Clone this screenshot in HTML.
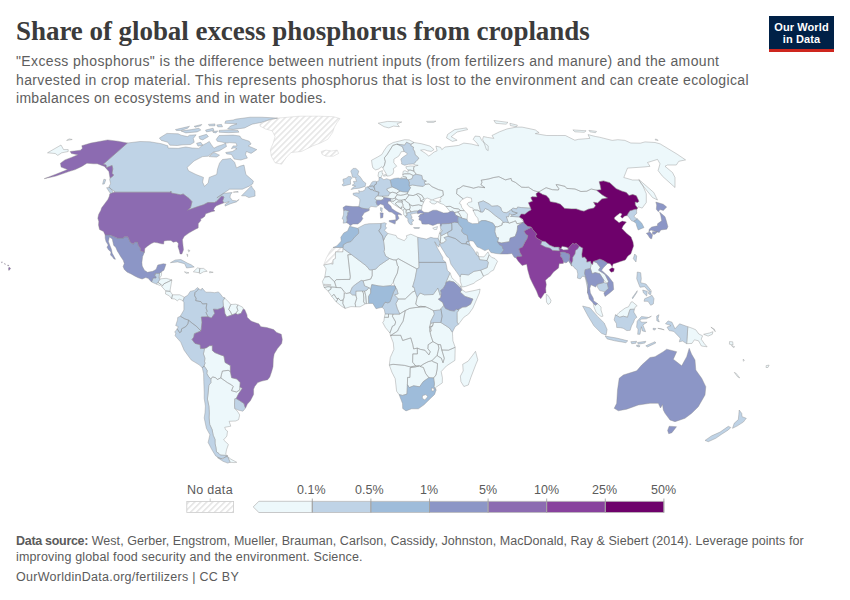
<!DOCTYPE html>
<html><head><meta charset="utf-8">
<style>
html,body{margin:0;padding:0;background:#fff;width:850px;height:600px;overflow:hidden;position:relative;font-family:"Liberation Sans",sans-serif;}
.t{position:absolute;white-space:nowrap;}
#title{left:16px;top:16.3px;letter-spacing:-0.05px;font-family:"Liberation Serif",serif;font-weight:bold;font-size:27px;color:#3b3b3b;}
.sub{left:16px;font-size:14px;color:#5e5e5e;letter-spacing:0.37px;}
.foot{left:16px;font-size:12.5px;color:#5b5b5b;letter-spacing:0.15px;}
.foot b{letter-spacing:-0.3px;}
.leg{font-size:12.5px;color:#5b5b5b;}
#logo{position:absolute;left:769px;top:16px;width:65px;height:36px;background:#002147;}
#logo .bar{position:absolute;left:0;bottom:0;width:65px;height:3px;background:#ce261e;}
#logo .tx{position:absolute;left:0;width:65px;text-align:center;color:#fff;font-weight:bold;font-size:11px;line-height:12px;}
svg{position:absolute;left:0;top:0;}
</style></head><body>
<div class="t" id="title">Share of global excess phosphorus from croplands</div>
<div class="t sub" style="top:53.3px">"Excess phosphorus" is the difference between nutrient inputs (from fertilizers and manure) and the amount</div>
<div class="t sub" style="top:72px">harvested in crop material. This represents phosphorus that is lost to the environment and can create ecological</div>
<div class="t sub" style="top:89.9px;letter-spacing:0.3px">imbalances on ecosystems and in water bodies.</div>
<div id="logo"><div class="tx" style="top:4.9px;letter-spacing:0.1px">Our World<br>in Data</div><div class="bar"></div></div>

<svg width="850" height="600" viewBox="0 0 850 600">
<defs><pattern id="nd" width="4.24" height="4.24" patternUnits="userSpaceOnUse" patternTransform="rotate(45)"><rect width="4.24" height="4.24" fill="#fff"/><rect width="1.6" height="4.24" fill="#e6e6e6"/></pattern></defs>
<g id="map" stroke="#8a8a8a" stroke-width="0.4" stroke-linejoin="round">
<path fill="url(#nd)" stroke="#d0d0d0" stroke-width="0.5" d="M343.0 247.5 L342.9 251.9 L335.5 251.9 L335.4 258.5 L333.1 259.8 L333.0 264.2 L330.8 263.7 L323.7 265.0 L326.4 257.9 L329.9 251.4 L333.0 247.5ZM277.9 118.1 L299.5 116.2 L318.4 116.2 L333.4 116.7 L340.0 118.6 L337.2 122.4 L334.4 127.1 L332.5 132.7 L327.8 139.3 L320.2 143.1 L312.7 145.9 L301.4 151.5 L291.1 152.5 L286.4 157.2 L281.6 164.2 L275.1 162.8 L271.3 156.2 L270.4 149.6 L273.2 143.1 L275.1 136.5 L272.2 130.8 L265.6 129.0 L260.0 126.1 L260.0 124.2 L267.5 120.5ZM321.2 151.5 L325.9 150.1 L331.5 151.0 L337.2 150.1 L338.6 153.4 L333.4 156.2 L325.9 156.2 L322.1 154.4Z"/>
<path fill="#edf8fb" d="M387.7 233.4 L396.1 235.5 L397.1 237.8 L404.3 240.7 L406.8 237.6 L406.4 235.7 L410.9 234.2 L417.8 237.3 L418.9 262.4 L419.1 267.6 L416.9 268.9 L398.3 258.7 L396.1 260.0 L393.1 259.8 L389.5 258.5 L385.6 256.1 L383.9 251.4 L384.6 249.3 L383.5 240.7 L385.1 237.0ZM417.2 297.2 L420.1 293.0 L424.5 294.8 L433.2 294.5 L437.9 288.0 L440.1 295.1 L440.9 297.4 L438.4 299.2 L442.8 302.6 L443.8 305.5 L440.9 308.9 L439.7 310.0 L433.5 310.7 L429.3 308.4 L425.6 306.8 L420.8 306.3 L418.7 306.6 L415.7 304.2ZM416.9 268.9 L398.3 258.7 L396.1 260.0 L397.5 265.8 L398.5 266.6 L397.3 273.1 L394.2 279.4 L393.3 282.3 L394.7 285.7 L395.7 288.0 L396.6 288.8 L398.1 293.8 L394.4 294.8 L398.3 299.0 L405.2 299.0 L412.3 292.2 L415.0 290.9 L414.0 287.0 L412.6 287.0 L415.0 278.9ZM389.5 258.5 L393.1 259.8 L396.1 260.0 L397.5 265.8 L398.5 266.6 L397.3 273.1 L394.2 279.4 L393.3 282.3 L390.6 285.7 L383.1 286.4 L378.7 285.9 L371.8 284.6 L370.7 289.3 L368.9 287.7 L364.5 285.9 L363.1 280.9 L370.7 279.1 L372.2 275.7 L372.2 269.7 L375.6 269.2 L379.4 265.3ZM351.4 254.5 L366.5 266.0 L369.7 270.0 L372.2 269.7 L372.2 275.7 L370.7 279.1 L363.1 280.9 L361.3 280.4 L357.9 282.8 L355.3 284.6 L352.3 287.2 L350.0 292.7 L346.3 293.5 L343.6 290.9 L341.1 287.7 L336.3 287.5 L334.5 281.7 L336.4 279.6 L349.9 279.4 L350.3 276.8 L347.8 254.8ZM323.7 265.0 L326.1 268.9 L324.8 277.0 L329.1 276.5 L334.5 281.7 L336.4 279.6 L349.9 279.4 L350.3 276.8 L347.8 254.8 L351.4 254.5 L343.0 248.5 L342.9 251.9 L335.5 251.9 L335.4 258.5 L333.1 259.8 L333.0 264.2 L330.8 263.7ZM324.8 277.0 L322.4 281.5 L324.1 287.5 L328.0 286.7 L334.7 287.2 L336.3 287.5 L334.5 281.7 L329.1 276.5ZM324.0 284.3 L330.8 284.6 L330.8 285.4 L324.2 285.4ZM324.1 287.5 L328.0 286.7 L331.0 287.0 L331.0 289.1 L328.0 291.1ZM328.0 291.1 L331.0 289.1 L331.0 287.0 L334.7 287.2 L336.3 287.5 L341.1 287.7 L343.6 290.9 L344.3 293.0 L344.0 297.7 L343.1 300.0 L340.6 300.6 L338.3 298.2 L337.1 299.0 L333.9 294.3 L331.8 296.4ZM331.8 296.4 L333.9 294.3 L337.1 299.0 L338.3 298.2 L336.2 301.9ZM336.2 301.9 L338.3 298.2 L340.6 300.6 L343.1 300.0 L342.8 303.4 L345.1 308.4 L341.7 306.3ZM345.1 308.4 L342.8 303.4 L343.1 300.0 L344.0 297.7 L344.3 293.0 L346.3 293.5 L350.0 292.7 L352.3 294.8 L355.8 295.1 L356.7 298.5 L355.1 303.4 L355.7 306.8 L350.9 306.6ZM355.7 306.8 L355.1 303.4 L356.7 298.5 L355.8 295.1 L355.8 291.1 L362.2 290.9 L363.4 293.2 L363.8 298.2 L363.6 301.9 L365.2 303.9 L360.1 306.8ZM365.2 303.9 L363.6 301.9 L363.8 298.2 L363.4 293.2 L362.2 290.9 L364.5 291.1 L365.7 295.6 L366.4 303.7ZM366.4 303.7 L365.7 295.6 L364.5 291.1 L367.0 290.1 L368.9 287.7 L370.7 289.3 L370.7 293.0 L368.6 296.4 L368.7 303.4ZM395.8 303.7 L398.3 299.0 L405.2 299.0 L412.3 292.2 L415.0 290.9 L417.2 297.2 L415.7 304.2 L418.7 306.6 L420.8 306.3 L425.6 306.8 L420.1 307.1 L415.0 307.6 L409.7 308.4 L405.3 310.5 L400.5 313.4 L399.8 314.1 L397.3 308.7ZM385.1 313.9 L388.5 313.9 L388.5 317.3 L384.4 317.3ZM384.4 317.3 L388.5 317.3 L388.5 313.9 L393.1 314.1 L392.4 316.2 L395.7 322.0 L394.7 325.1 L392.4 326.2 L389.9 333.0 L385.5 327.7 L382.7 322.5 L383.9 320.9ZM389.9 333.0 L392.4 326.2 L394.7 325.1 L395.7 322.0 L392.4 316.2 L393.1 314.1 L399.8 314.1 L400.5 313.4 L405.3 310.5 L403.1 321.2 L399.4 327.2 L397.5 331.1 L390.5 335.6ZM390.5 335.6 L397.5 331.1 L399.4 327.2 L403.1 321.2 L405.3 310.5 L409.7 308.4 L415.0 307.6 L420.1 307.1 L425.6 306.8 L429.3 308.4 L433.5 310.7 L434.4 314.1 L430.8 321.2 L429.8 327.2 L430.0 331.7 L431.1 336.4 L432.9 341.6 L428.2 344.7 L427.9 348.6 L430.3 351.8 L428.9 354.9 L424.9 350.2 L420.5 349.4 L417.3 348.1 L413.6 348.9 L412.8 344.7 L410.8 337.9 L402.7 340.5 L400.7 335.3 L392.4 335.3ZM390.5 335.6 L392.4 335.3 L400.7 335.3 L402.7 340.5 L410.8 337.9 L412.8 344.7 L413.6 348.9 L417.3 348.1 L417.4 353.9 L412.8 353.9 L412.6 362.2 L415.7 365.9 L410.2 366.9 L404.6 365.4 L393.0 364.3 L389.3 365.1 L390.3 357.5 L393.9 349.4 L393.3 342.9ZM389.3 365.1 L393.0 364.3 L404.6 365.4 L410.2 366.9 L415.7 365.9 L419.4 365.9 L415.5 366.9 L410.2 367.7 L409.9 377.4 L407.6 377.4 L407.4 384.7 L407.0 394.1 L402.5 395.4 L399.1 394.6 L396.6 391.2 L395.2 378.7 L391.9 372.2ZM407.4 384.7 L407.6 377.4 L409.9 377.4 L410.2 367.7 L415.5 366.9 L419.4 365.9 L420.0 366.4 L423.4 367.5 L425.7 373.5 L428.9 377.7 L423.3 381.6 L419.6 386.8 L413.6 385.8 L409.3 387.6ZM420.0 366.4 L424.0 363.8 L428.2 361.7 L431.9 360.7 L433.2 361.7 L437.5 363.5 L437.2 369.0 L436.0 375.0 L433.6 377.9 L428.9 377.7 L425.7 373.5 L423.4 367.5ZM412.8 353.9 L417.4 353.9 L417.3 348.1 L420.5 349.4 L424.9 350.2 L428.9 354.9 L430.3 351.8 L427.9 348.6 L428.2 344.7 L432.9 341.6 L438.1 344.5 L438.9 348.1 L438.1 351.3 L437.1 355.4 L431.9 360.7 L428.2 361.7 L424.0 363.8 L420.0 366.4 L419.4 365.9 L415.7 365.9 L412.6 362.2ZM436.0 390.2 L434.0 386.8 L434.4 383.7 L433.6 377.9 L436.0 375.0 L437.2 369.0 L437.5 363.5 L433.2 361.7 L431.9 360.7 L437.1 355.4 L438.4 356.5 L441.3 358.1 L443.0 362.8 L444.3 358.3 L441.8 350.0 L448.5 350.2 L455.2 347.3 L454.9 360.4 L446.5 365.9 L441.2 371.6 L442.4 377.7 L442.3 382.9 L435.5 387.6ZM438.9 348.1 L438.1 344.5 L440.6 344.7 L441.8 350.0 L444.3 358.3 L443.0 362.8 L441.3 358.1 L438.4 356.5 L437.1 355.4 L438.1 351.3ZM430.0 331.7 L431.1 336.4 L432.9 341.6 L438.1 344.5 L440.6 344.7 L441.8 350.0 L448.5 350.2 L455.2 347.3 L452.9 340.8 L452.7 336.9 L452.4 332.2 L449.4 328.0 L440.9 322.5 L433.5 322.5 L432.6 325.9 L430.7 327.5ZM430.8 323.3 L433.5 322.5 L432.6 325.9 L429.4 327.2ZM429.4 327.2 L432.6 325.9 L430.7 327.5 L431.6 330.9 L430.0 331.7ZM445.9 282.5 L450.0 272.8 L452.2 278.3 L453.8 279.4 L457.9 283.6 L461.2 286.7 L459.6 287.2 L456.8 284.6 L453.9 282.0 L449.1 280.9ZM459.6 287.2 L461.2 286.7 L462.0 289.8 L460.7 291.1 L461.3 289.1ZM457.1 322.2 L458.5 324.3 L463.8 317.3 L468.6 314.1 L472.9 308.1 L476.8 299.0 L479.4 293.0 L480.1 289.1 L474.9 290.4 L465.8 292.2 L462.0 289.8 L460.7 291.1 L460.3 292.2 L465.0 296.4 L472.9 299.0 L470.5 304.2 L466.2 306.8 L462.7 307.1 L459.3 308.9 L457.0 309.7 L459.1 309.7 L457.0 312.6ZM475.5 351.3 L477.8 359.9 L475.9 364.3 L470.9 377.4 L468.3 385.0 L463.9 386.5 L460.9 381.6 L460.4 376.1 L463.2 370.9 L462.7 364.3 L468.1 361.2 L472.3 355.7ZM159.5 273.3 L161.7 271.5 L161.4 275.5 L159.5 278.3 L158.9 278.3ZM158.0 282.3 L158.4 281.7 L160.1 278.9 L166.1 278.3 L171.9 279.9 L168.7 281.5 L163.9 283.8 L162.4 285.9 L161.3 284.9ZM156.2 284.0 L158.0 282.3 L161.3 284.9 L159.7 285.4ZM171.9 279.9 L171.3 283.3 L170.1 290.1 L170.2 291.4 L165.7 290.9 L161.4 286.2 L162.4 285.9 L163.9 283.8 L168.7 281.5ZM170.2 291.4 L172.5 294.8 L171.6 298.7 L169.3 295.8 L165.5 294.0 L165.7 290.9ZM172.5 294.8 L179.7 294.8 L184.4 297.2 L183.0 301.1 L182.4 300.3 L179.2 299.2 L177.3 300.8 L174.8 299.0 L171.6 298.7ZM193.3 271.8 L197.5 267.9 L199.8 268.4 L199.3 272.8ZM199.8 268.4 L203.6 268.4 L207.2 271.3 L203.5 271.8 L199.9 273.9 L199.3 272.8ZM184.4 271.8 L189.0 272.8 L186.5 273.4ZM209.7 271.5 L213.2 272.3 L209.5 272.8ZM188.0 249.8 L190.1 250.6 L188.7 251.9ZM186.8 254.0 L187.6 256.6 L187.7 254.5ZM224.4 297.7 L228.8 302.1 L230.8 304.5 L228.7 309.4 L230.2 311.3 L232.0 314.9 L226.7 316.8 L224.9 313.4 L224.3 309.2 L223.4 306.3 L222.9 300.8 L224.8 297.9ZM230.8 304.5 L235.7 304.2 L238.0 304.9 L236.8 307.1 L237.9 310.5 L235.7 313.4 L232.0 314.9 L230.2 311.3 L228.7 309.4ZM238.0 304.9 L242.5 307.1 L243.4 308.9 L241.0 313.4 L237.6 314.4 L235.7 313.4 L237.9 310.5 L236.8 307.1ZM202.6 348.5 L206.2 347.9 L209.4 345.8 L212.3 345.5 L212.4 350.5 L214.8 352.6 L220.7 354.9 L223.9 356.0 L225.1 362.5 L230.4 365.6 L230.4 371.6 L228.2 370.3 L222.4 371.1 L221.4 374.8 L220.8 377.9 L217.3 379.5 L215.6 377.7 L212.5 376.9 L210.8 379.2 L208.2 376.1 L206.8 373.5 L207.2 370.6 L205.3 367.7 L204.0 365.9 L205.1 363.0 L204.5 361.7 L204.9 358.1 L203.4 353.9 L204.5 348.6ZM230.4 371.6 L231.6 377.7 L236.9 379.0 L240.2 382.6 L239.9 386.8 L239.8 389.9 L236.5 392.0 L231.5 390.7 L233.2 386.5 L231.7 385.0 L227.4 382.6 L220.8 377.9 L221.4 374.8 L222.4 371.1 L228.2 370.3ZM220.8 377.9 L227.4 382.6 L231.7 385.0 L233.2 386.5 L231.5 390.7 L236.5 392.0 L239.8 389.9 L239.9 386.8 L242.3 388.5 L238.7 393.6 L236.2 398.6 L234.8 398.8 L234.5 404.8 L234.8 408.5 L238.1 412.2 L239.7 415.0 L238.6 419.7 L235.7 421.0 L229.1 421.3 L230.8 426.2 L224.7 427.3 L225.7 429.8 L227.5 431.1 L226.9 436.0 L223.6 439.9 L228.4 444.5 L226.5 449.8 L225.7 454.4 L227.7 455.9 L225.3 455.4 L220.4 455.1 L219.0 453.6 L216.5 451.8 L215.9 447.3 L215.1 443.7 L215.0 439.4 L213.2 435.3 L212.1 429.6 L209.7 424.4 L209.1 417.9 L209.3 412.7 L208.9 406.1 L207.4 399.1 L208.2 392.3 L208.8 385.5 L210.9 382.6 L210.8 379.2 L212.5 376.9 L215.6 377.7 L217.3 379.5ZM227.6 456.6 L230.8 459.1 L236.8 462.3 L234.2 462.6 L230.1 462.3ZM414.3 166.2 L413.6 168.2 L413.9 171.1 L416.2 174.3 L421.8 175.5 L422.5 179.4 L426.3 181.2 L424.1 181.7 L425.2 184.4 L429.0 183.9 L432.0 186.7 L438.6 189.7 L442.8 190.7 L443.4 195.3 L440.5 197.1 L441.3 198.4 L439.6 199.9 L440.9 201.7 L438.1 201.9 L439.8 203.2 L443.5 204.5 L446.0 206.6 L450.1 206.3 L454.1 208.4 L458.4 208.9 L460.6 210.5 L464.4 210.7 L461.9 207.6 L460.7 204.0 L459.3 203.5 L460.6 200.9 L463.2 198.9 L456.6 193.8 L457.0 189.0 L459.6 188.2 L463.1 185.7 L469.9 187.2 L473.6 188.2 L478.3 186.9 L485.0 187.7 L480.9 184.7 L482.0 182.2 L481.2 180.2 L488.9 178.9 L493.8 177.5 L498.9 176.7 L505.4 179.9 L511.1 178.4 L511.6 180.7 L515.4 182.4 L521.6 187.2 L525.7 187.4 L528.4 187.2 L533.5 190.5 L538.5 192.0 L540.4 191.0 L543.8 189.0 L546.1 187.7 L552.4 189.7 L558.4 190.0 L558.9 188.7 L556.0 184.7 L557.9 184.7 L565.1 186.4 L566.7 188.4 L575.0 189.0 L580.9 191.5 L586.8 191.2 L591.2 189.0 L596.6 190.2 L601.1 189.7 L600.2 185.2 L599.2 181.7 L603.5 180.9 L609.7 182.7 L616.2 188.7 L622.0 191.2 L626.3 192.5 L629.0 195.6 L632.8 194.5 L636.3 195.8 L638.9 201.2 L637.8 202.5 L635.0 201.9 L635.3 205.0 L637.5 207.9 L636.8 209.2 L638.3 206.8 L642.2 208.1 L646.3 202.5 L646.3 193.8 L642.5 185.0 L638.8 180.0 L632.5 180.0 L623.8 177.5 L627.5 168.1 L645.0 166.9 L650.0 166.3 L647.5 162.5 L657.5 159.4 L660.0 163.8 L658.1 170.6 L662.5 176.3 L675.0 187.5 L675.0 177.5 L672.5 172.5 L665.0 166.3 L667.5 165.0 L676.3 165.0 L678.8 161.3 L685.6 159.9 L677.2 154.2 L660.2 143.9 L655.1 142.5 L645.0 141.9 L640.3 143.2 L630.8 143.0 L624.9 140.4 L617.9 139.7 L612.2 140.4 L599.5 137.2 L595.5 136.5 L588.0 134.6 L589.9 138.4 L578.6 139.3 L574.8 140.2 L565.4 135.5 L557.9 135.5 L546.6 135.5 L535.3 133.6 L539.1 132.7 L535.3 129.9 L522.1 127.1 L516.5 127.1 L507.1 128.9 L499.5 131.8 L492.0 135.5 L493.9 138.4 L487.3 137.4 L483.5 136.5 L482.6 139.3 L484.5 144.0 L486.4 149.6 L488.2 150.6 L488.2 145.9 L484.5 143.1 L481.6 140.2 L479.8 136.5 L475.1 136.1 L473.2 139.3 L476.9 143.1 L478.8 145.9 L471.3 144.0 L463.8 143.1 L458.7 145.4 L453.1 146.1 L445.0 147.0 L441.8 149.6 L440.6 147.3 L435.9 146.1 L437.1 150.8 L434.1 152.0 L431.2 154.4 L428.8 156.1 L425.3 153.2 L420.6 150.2 L424.1 149.6 L427.6 150.8 L431.2 151.4 L434.1 149.6 L430.0 146.1 L421.8 143.8 L414.0 142.5 L410.9 144.3 L410.8 145.8 L413.5 147.2 L413.0 149.0 L414.7 151.7 L415.0 154.5 L418.9 158.2 L416.0 161.5 L413.5 163.9 L415.0 165.0 L418.2 165.3ZM47.5 152.8 L61.0 145.0 L63.6 149.6 L68.2 149.6 L68.2 151.5 L61.7 152.8 L57.8 155.4 L55.2 153.5ZM447.6 134.4 L454.7 129.6 L466.5 127.9 L467.6 129.6 L457.1 132.0 L451.2 136.7 L457.1 140.2 L452.4 141.4 L446.5 137.9ZM493.9 120.5 L508.0 122.4 L506.1 124.2 L495.8 123.3ZM509.9 123.3 L517.4 125.2 L516.5 126.7 L510.4 125.6ZM572.9 129.9 L586.1 130.8 L584.2 132.3 L574.8 131.8ZM588.9 130.4 L596.5 131.4 L595.5 132.7 L589.9 131.8ZM638.8 179.4 L653.8 192.5 L657.5 200.0 L652.5 197.5 L641.3 183.8ZM655.1 139.9 L655.7 138.9 L658.2 140.4ZM69.2 138.9 L72.2 139.5 L66.6 140.4ZM426.5 121.4 L435.9 121.2 L433.5 122.4 L427.6 122.4ZM463.2 198.9 L456.6 193.8 L457.0 189.0 L459.6 188.2 L463.1 185.7 L469.9 187.2 L473.6 188.2 L478.3 186.9 L485.0 187.7 L480.9 184.7 L482.0 182.2 L481.2 180.2 L488.9 178.9 L493.8 177.5 L498.9 176.7 L505.4 179.9 L511.1 178.4 L511.6 180.7 L515.4 182.4 L521.6 187.2 L525.7 187.4 L528.4 187.2 L533.5 190.5 L538.5 192.0 L536.0 193.8 L537.1 197.1 L531.9 196.8 L530.9 197.8 L532.6 201.2 L528.5 202.7 L529.2 204.5 L530.7 208.1 L528.2 208.1 L521.5 207.6 L517.6 207.1 L516.7 208.9 L512.9 208.1 L511.5 209.4 L508.4 211.8 L506.4 212.8 L503.3 212.3 L501.4 210.2 L500.8 207.6 L497.8 205.8 L491.9 206.3 L489.1 204.0 L483.3 200.9 L478.3 202.5 L480.8 212.0 L477.6 210.2 L474.0 209.9 L473.1 211.0 L473.1 208.1 L469.7 207.1 L466.9 204.0 L468.4 202.5 L471.9 201.7 L471.4 198.1 L467.0 197.1ZM473.1 211.0 L474.0 209.9 L477.6 210.2 L480.8 212.0 L482.9 212.0 L485.3 208.4 L488.8 210.2 L491.4 212.3 L495.3 215.6 L500.5 219.3 L503.8 222.4 L502.2 222.9 L502.1 225.0 L497.7 226.8 L495.3 226.8 L493.0 223.2 L490.0 222.1 L485.5 220.6 L481.7 220.6 L478.6 222.4 L477.8 218.2 L475.4 215.4 L474.5 213.0ZM510.6 216.4 L519.5 216.9 L523.8 222.1 L520.0 223.2 L516.9 223.7 L515.5 220.8 L513.8 221.6 L509.2 223.2 L508.4 222.7 L506.2 216.7 L508.6 216.7 L509.4 213.6 L512.5 214.9ZM495.3 226.8 L497.7 226.8 L502.1 225.0 L502.2 222.9 L503.8 222.4 L505.7 222.1 L508.4 222.7 L509.2 223.2 L513.8 221.6 L515.5 220.8 L516.9 223.7 L520.0 223.2 L523.8 222.1 L517.6 225.8 L517.4 229.2 L516.9 231.8 L515.1 236.5 L510.1 238.1 L509.4 241.7 L501.2 243.0 L497.5 241.7 L498.6 237.8 L496.7 237.6 L494.8 231.8ZM560.8 248.5 L562.1 246.2 L567.0 247.2 L568.1 248.3 L568.2 249.8 L563.4 250.1ZM546.3 294.3 L548.2 295.6 L551.0 300.3 L550.4 302.9 L548.2 304.5 L546.5 302.1 L546.3 297.7ZM538.5 192.0 L540.4 191.0 L543.8 189.0 L546.1 187.7 L552.4 189.7 L558.4 190.0 L558.9 188.7 L556.0 184.7 L557.9 184.7 L565.1 186.4 L566.7 188.4 L575.0 189.0 L580.9 191.5 L586.8 191.2 L591.2 189.0 L596.6 190.2 L602.1 194.8 L607.6 198.1 L601.9 198.9 L597.6 203.0 L593.6 202.2 L595.6 205.8 L593.8 208.1 L588.3 209.2 L584.0 211.2 L581.4 210.7 L576.2 208.9 L571.3 208.9 L564.6 208.4 L560.5 204.3 L556.0 202.7 L550.2 201.7 L549.0 198.6 L546.2 195.6 L542.7 194.5ZM591.2 263.6 L592.6 264.5 L593.2 261.3 L596.8 262.7 L600.3 267.3 L598.6 270.2 L605.0 274.3 L608.5 281.3 L607.3 283.6 L603.8 280.1 L599.7 273.7 L595.1 272.6 L592.2 273.7 L590.4 268.5ZM593.1 302.9 L595.2 305.3 L597.7 303.7 L601.1 307.1 L601.0 310.0 L603.0 316.2 L601.1 316.5 L596.2 312.6 L593.9 306.8ZM615.4 314.9 L619.8 317.3 L623.3 316.2 L627.5 317.3 L630.0 309.4 L634.4 309.2 L635.4 306.8 L637.2 305.8 L632.6 301.9 L631.2 301.9 L628.5 306.8 L625.1 308.1 L619.0 312.6 L616.3 315.4ZM687.8 326.7 L692.4 328.3 L695.8 329.8 L698.8 334.0 L702.6 335.8 L701.2 339.2 L704.4 343.7 L707.1 346.8 L701.4 346.0 L698.5 340.8 L694.4 339.8 L692.0 343.4 L686.7 343.7ZM703.6 334.3 L709.4 333.0 L713.0 331.7 L712.3 334.3 L708.1 336.1ZM710.9 327.2 L714.3 329.0 L715.3 331.7 L713.1 329.0ZM439.4 233.4 L440.9 232.9 L442.4 230.5 L440.9 229.5ZM438.1 238.1 L439.4 233.4 L440.9 232.9 L440.7 237.6 L440.2 243.0 L439.9 242.8ZM440.2 243.0 L440.7 237.6 L440.8 234.4 L441.6 235.5 L447.4 232.6 L448.3 236.3 L444.0 237.6 L446.5 240.2 L443.5 242.8ZM476.6 255.1 L478.6 256.6 L478.1 252.5 L476.7 251.7ZM478.6 256.6 L479.7 259.8 L487.0 260.6 L489.2 254.8 L488.0 251.9 L484.0 256.9ZM483.5 276.2 L480.6 270.2 L487.2 267.6 L488.3 262.4 L487.0 260.6 L489.2 254.8 L491.7 257.4 L494.9 258.5 L497.5 261.3 L495.0 266.6 L493.5 270.2 L491.1 271.3 L488.3 273.9ZM460.1 277.0 L461.0 274.2 L468.4 274.9 L474.0 271.3 L480.6 270.2 L483.5 276.2 L481.6 278.3 L475.9 281.5 L473.9 283.3 L465.6 286.4 L462.2 287.0 L460.3 281.5ZM378.2 123.2 L387.6 121.4 L401.8 122.0 L397.1 123.8 L399.4 126.7 L393.5 126.1 L388.8 127.9 L384.1 126.7ZM371.5 160.3 L372.2 165.0 L372.9 167.9 L375.6 169.9 L378.4 169.1 L381.9 166.7 L382.9 167.7 L384.4 165.3 L385.3 161.5 L384.3 157.9 L387.1 154.5 L389.3 151.0 L392.8 145.4 L397.0 144.1 L397.7 144.3 L404.6 145.2 L406.5 142.3 L410.9 144.3 L414.0 142.5 L409.2 139.9 L404.7 139.7 L399.5 141.0 L393.2 142.5 L387.8 145.4 L384.5 149.9 L381.8 154.5 L377.6 157.0ZM382.9 167.7 L383.4 169.1 L386.5 174.3 L387.2 176.2 L389.9 175.7 L392.9 174.0 L393.8 171.1 L393.3 168.7 L396.7 166.2 L393.8 162.7 L393.9 159.1 L398.8 156.1 L401.3 151.7 L404.2 151.5 L402.5 146.7 L397.0 144.1 L392.8 145.4 L389.3 151.0 L387.1 154.5 L384.3 157.9 L385.3 161.5 L384.4 165.3ZM378.0 176.0 L378.7 172.1 L382.4 170.6 L382.0 173.3 L383.2 173.8 L381.6 176.0 L381.0 177.6 L379.0 177.5ZM383.6 176.2 L386.6 175.7 L385.9 174.5 L383.7 175.0ZM374.7 198.9 L376.5 196.1 L377.9 195.8 L382.0 196.1 L383.9 197.6 L383.2 199.4 L381.0 200.3 L378.5 200.2 L376.8 200.2ZM382.0 196.1 L383.8 196.1 L388.5 195.8 L388.8 194.8 L390.3 192.8 L392.7 192.2 L396.6 193.3 L397.2 194.8 L396.1 196.1 L395.2 198.1 L392.4 198.9 L387.8 198.1 L383.9 197.6ZM386.6 189.0 L390.9 187.2 L392.3 186.9 L396.4 188.7 L400.2 191.0 L397.0 192.8 L396.6 193.3 L392.7 192.2 L390.3 192.8 L387.6 191.0ZM397.0 192.8 L400.2 191.0 L402.7 191.7 L408.0 192.0 L407.2 193.8 L403.7 194.8 L400.7 195.3 L397.2 194.8 L396.6 193.3ZM397.2 194.8 L400.7 195.3 L403.7 194.8 L407.2 193.8 L409.0 195.0 L405.8 199.4 L404.2 199.6 L401.5 200.2 L398.4 200.2 L396.3 198.9 L395.2 198.1 L396.1 196.1ZM390.7 200.9 L390.5 198.6 L392.4 198.9 L395.2 198.1 L396.3 198.9 L394.0 201.2 L390.5 201.2ZM390.5 201.2 L394.0 201.2 L396.3 198.9 L398.4 200.2 L401.5 200.2 L402.5 201.9 L397.2 201.9 L395.2 203.7 L399.7 207.6 L401.3 209.0 L398.0 207.1 L394.0 204.5 L391.4 202.5ZM395.2 203.7 L397.2 201.9 L402.5 201.9 L402.0 202.7 L403.2 205.0 L401.5 207.1 L401.3 208.6 L399.7 207.6ZM401.5 200.2 L404.2 199.6 L406.9 201.9 L409.5 203.7 L409.4 204.5 L410.3 207.1 L409.5 209.4 L406.2 209.9 L404.6 208.6 L403.4 207.1 L403.2 205.0 L402.0 202.7 L402.5 201.9ZM401.3 208.6 L401.5 207.1 L403.4 207.1 L404.6 208.6 L403.1 210.5 L401.3 209.0ZM403.1 210.5 L404.6 208.6 L406.2 209.9 L406.0 212.5 L407.1 215.4 L405.1 216.2 L403.7 214.6 L403.6 212.0ZM406.2 209.9 L409.5 209.4 L411.0 212.0 L406.9 213.0 L406.0 212.5ZM409.5 209.4 L410.3 207.1 L409.4 204.5 L412.5 205.8 L418.6 204.8 L422.1 205.8 L421.4 210.2 L419.7 209.9 L417.7 211.0 L414.1 211.2 L411.0 212.0ZM404.2 199.6 L405.8 199.4 L409.0 195.0 L413.1 195.6 L416.4 194.3 L420.1 197.8 L420.6 201.2 L423.8 201.9 L422.1 205.8 L418.6 204.8 L412.5 205.8 L409.4 204.5 L409.5 203.7 L406.9 201.9ZM416.4 194.3 L418.1 193.5 L421.6 195.0 L424.2 198.9 L420.6 201.2 L420.1 197.8ZM408.0 192.0 L410.5 187.7 L409.2 185.9 L412.4 184.9 L416.9 185.7 L423.2 186.4 L425.2 184.4 L429.0 183.9 L432.0 186.7 L438.6 189.7 L442.8 190.7 L443.4 195.3 L440.5 197.1 L434.7 198.9 L432.4 199.9 L435.7 201.2 L437.8 201.7 L434.9 204.0 L432.0 203.7 L429.6 201.7 L431.7 199.9 L427.4 198.1 L425.6 198.6 L423.8 201.9 L420.6 201.2 L424.2 198.9 L421.6 195.0 L418.1 193.5 L416.4 194.3 L413.1 195.6 L409.0 195.0 L407.2 193.8ZM402.9 175.5 L402.7 174.5 L404.7 173.8 L409.9 173.8 L413.2 175.5 L411.9 178.9 L408.2 179.9 L406.6 178.8 L406.2 177.0 L403.4 176.7ZM402.7 174.5 L403.2 171.3 L405.0 170.6 L408.1 172.3 L408.1 170.1 L410.6 170.1 L413.9 171.1 L416.2 174.3 L413.2 175.5 L409.9 173.8 L404.7 173.8ZM408.1 170.1 L406.3 168.4 L405.9 166.7 L410.2 166.0 L414.3 166.2 L413.6 168.2 L413.9 171.1 L410.6 170.1ZM400.4 178.7 L406.6 178.8 L406.2 177.0 L403.4 176.7 L401.0 177.5ZM446.0 206.6 L450.1 206.3 L454.1 208.4 L458.4 208.9 L460.6 210.5 L457.5 212.0 L454.7 212.5 L452.7 211.2 L450.0 211.5ZM454.7 212.5 L457.5 212.0 L459.0 213.0 L461.9 218.2 L457.9 216.2 L455.3 214.9ZM457.5 212.0 L460.6 210.5 L464.4 210.7 L467.5 214.1 L467.1 219.5 L465.3 219.0 L461.9 218.2 L459.0 213.0ZM432.7 228.2 L437.5 226.6 L436.6 229.5 L434.4 229.5ZM734.3 372.4 L736.3 373.5 L739.7 377.9 L737.7 376.9ZM766.2 365.6 L769.1 365.1 L768.0 367.5 L766.0 367.5ZM729.5 341.6 L732.7 341.8 L733.0 345.0 L729.4 344.2ZM731.4 345.5 L734.7 346.8 L733.4 347.6ZM743.2 359.1 L744.4 360.4 L743.3 361.2Z"/>
<path fill="#bfd3e6" d="M357.6 228.2 L364.6 224.5 L368.9 223.7 L381.0 223.5 L380.7 227.9 L378.8 230.8 L382.5 236.0 L383.5 240.7 L384.6 249.3 L383.9 251.4 L385.6 256.1 L389.5 258.5 L379.4 265.3 L375.6 269.2 L372.2 269.7 L369.7 270.0 L366.5 266.0 L351.4 254.5 L343.0 248.5 L343.0 247.5 L343.1 244.9 L346.9 242.5 L350.9 241.5 L354.5 237.3 L358.7 233.1 L358.5 229.7ZM381.0 223.5 L384.4 222.7 L386.4 223.5 L385.2 226.1 L386.6 227.9 L384.5 230.2 L387.7 233.4 L385.1 237.0 L383.5 240.7 L382.5 236.0 L378.8 230.8 L380.7 227.9ZM417.8 237.3 L426.5 239.1 L430.8 237.3 L433.7 238.1 L437.9 238.3 L439.9 242.8 L438.9 247.0 L437.3 245.9 L434.7 241.7 L437.5 248.3 L439.8 252.2 L442.8 257.4 L442.7 259.5 L445.8 262.4 L433.4 262.4 L418.9 262.4ZM418.9 262.4 L433.4 262.4 L445.8 262.4 L447.4 270.5 L450.0 272.8 L445.9 282.5 L445.6 284.3 L443.4 288.3 L440.5 290.6 L441.2 292.2 L440.1 295.1 L437.9 288.0 L433.2 294.5 L424.5 294.8 L420.1 293.0 L417.2 297.2 L415.0 290.9 L414.0 287.0 L412.6 287.0 L415.0 278.9 L416.9 268.9 L419.1 267.6ZM350.0 292.7 L352.3 287.2 L355.3 284.6 L357.9 282.8 L361.3 280.4 L363.1 280.9 L364.5 285.9 L368.9 287.7 L367.0 290.1 L364.5 291.1 L362.2 290.9 L355.8 291.1 L355.8 295.1 L352.3 294.8ZM382.0 307.3 L385.0 302.1 L388.0 302.9 L390.1 301.6 L393.7 291.7 L395.7 288.0 L394.7 285.7 L396.6 288.8 L398.1 293.8 L394.4 294.8 L398.3 299.0 L395.8 303.7 L397.3 308.7 L399.8 314.1 L393.1 314.1 L388.5 313.9 L385.1 313.9 L384.3 309.4ZM452.4 332.2 L455.2 326.7 L458.5 324.3 L457.1 322.2 L457.0 312.6 L459.1 309.7 L456.5 308.9 L454.3 311.0 L450.3 310.5 L445.5 308.4 L443.8 305.5 L440.9 308.9 L442.1 316.2 L440.9 322.5 L449.4 328.0ZM430.8 321.2 L434.4 314.1 L433.5 310.7 L439.7 310.0 L440.9 308.9 L442.1 316.2 L440.9 322.5 L433.5 322.5 L430.8 323.3ZM151.5 282.0 L152.2 280.4 L153.1 277.9 L156.0 277.9 L156.1 277.0 L154.2 274.8 L155.2 274.8 L155.4 273.3 L159.5 273.3 L158.9 278.3 L160.1 278.9 L158.4 281.7 L158.0 282.3 L156.2 284.0ZM170.4 262.7 L175.2 260.0 L180.9 259.5 L187.6 263.2 L191.1 264.7 L194.2 267.0 L186.6 268.0 L184.6 263.7 L177.6 261.9ZM184.4 297.2 L187.7 295.3 L190.2 291.4 L194.2 290.4 L197.6 287.5 L198.8 288.9 L196.7 290.9 L194.9 292.7 L194.6 295.8 L196.1 298.2 L195.7 300.6 L201.0 301.7 L202.5 303.9 L206.9 303.7 L206.1 308.1 L207.2 311.3 L206.0 312.6 L208.0 316.8 L201.3 317.0 L202.0 322.2 L201.0 330.9 L199.8 329.8 L196.3 326.2 L192.3 323.3 L188.6 320.2 L184.7 318.8 L180.3 316.2 L183.9 310.0 L183.9 302.4 L183.0 301.1ZM196.7 290.9 L198.8 288.9 L201.3 290.1 L202.1 288.0 L205.8 292.2 L210.4 292.2 L214.7 292.7 L218.4 291.9 L220.2 293.8 L223.0 297.4 L224.4 297.7 L224.8 297.9 L222.9 300.8 L223.4 306.3 L221.8 308.1 L217.6 309.4 L213.4 309.2 L214.7 313.4 L211.4 318.1 L208.0 316.8 L206.0 312.6 L207.2 311.3 L206.1 308.1 L206.9 303.7 L202.5 303.9 L201.0 301.7 L195.7 300.6 L196.1 298.2 L194.6 295.8 L194.9 292.7ZM180.3 316.2 L184.7 318.8 L188.6 320.2 L187.9 323.9 L185.7 326.7 L181.6 328.8 L181.2 331.7 L179.6 332.7 L177.2 328.8 L178.3 326.7 L175.7 325.6 L177.5 319.9 L177.7 317.5ZM188.6 320.2 L192.3 323.3 L196.3 326.2 L199.8 329.8 L201.0 330.9 L194.4 333.7 L193.8 337.1 L192.0 339.5 L195.0 343.4 L200.1 344.7 L200.5 348.6 L202.6 348.5 L204.5 348.6 L203.4 353.9 L204.9 358.1 L204.5 361.7 L205.1 363.0 L204.0 365.9 L202.3 367.9 L199.6 365.1 L191.3 360.1 L187.7 355.2 L184.1 350.2 L180.7 342.1 L175.1 335.8 L175.9 333.0 L174.7 332.2 L177.2 328.8 L179.6 332.7 L181.2 331.7 L181.6 328.8 L185.7 326.7 L187.9 323.9ZM245.6 408.0 L244.9 406.7 L244.0 403.5 L239.5 400.5 L236.2 398.6 L234.8 398.8 L234.5 404.8 L234.8 408.5 L238.1 410.1 L242.9 411.2ZM202.3 367.9 L204.0 365.9 L205.3 367.7 L207.2 370.6 L206.8 373.5 L208.2 376.1 L210.8 379.2 L210.9 382.6 L208.8 385.5 L208.2 392.3 L207.4 399.1 L208.9 406.1 L209.3 412.7 L209.1 417.9 L209.7 424.4 L212.1 429.6 L213.2 435.3 L215.0 439.4 L215.1 443.7 L215.9 447.3 L216.5 451.8 L219.0 453.6 L220.4 455.1 L225.3 455.4 L227.7 455.9 L224.3 457.6 L220.9 458.9 L215.7 455.9 L212.1 450.1 L208.1 442.4 L208.8 439.4 L209.9 434.7 L206.4 428.3 L204.2 417.9 L205.0 412.7 L205.4 406.1 L204.2 398.3 L204.2 392.0 L203.8 381.6 L203.6 373.5ZM227.6 456.6 L230.1 462.3 L227.7 463.1 L223.0 461.3 L217.4 457.6 L222.9 458.9 L225.3 456.9ZM127.4 143.0 L140.0 141.5 L150.0 141.8 L161.3 143.7 L167.9 145.8 L168.0 148.0 L178.2 148.3 L185.8 147.0 L192.2 148.0 L198.8 148.4 L202.0 145.5 L206.5 143.2 L209.3 141.4 L211.0 144.2 L213.9 148.2 L217.6 146.3 L223.3 144.4 L225.5 143.0 L226.5 146.5 L219.0 151.0 L213.9 151.9 L212.9 152.4 L208.2 156.2 L202.6 156.6 L194.0 161.0 L187.1 167.5 L188.5 170.8 L196.0 174.5 L203.5 177.4 L202.6 182.1 L204.5 186.3 L208.2 183.0 L209.2 177.4 L216.7 174.5 L217.6 168.9 L219.5 163.2 L222.4 159.5 L230.8 158.5 L234.6 162.3 L236.5 167.9 L240.2 166.1 L244.0 165.1 L245.9 174.5 L253.4 181.1 L252.8 183.7 L249.2 186.2 L242.4 189.2 L229.6 189.2 L221.3 194.8 L216.9 197.8 L223.6 193.3 L232.2 192.5 L230.4 194.8 L230.0 197.3 L232.3 200.4 L236.7 200.9 L239.2 199.4 L236.4 201.9 L230.6 203.7 L225.1 206.1 L225.0 204.5 L229.2 201.7 L223.6 203.0 L222.7 200.7 L223.9 197.2 L223.3 196.4 L221.4 196.2 L216.5 201.4 L214.5 202.5 L207.9 202.5 L203.5 204.8 L197.3 206.8 L187.5 210.2 L190.5 207.6 L192.0 201.7 L189.2 198.6 L183.2 194.0 L180.4 194.8 L171.2 193.0 L171.0 191.2 L170.4 192.2 L114.3 192.2 L114.5 191.0 L111.9 189.7 L108.8 187.2 L110.6 183.4 L109.7 179.7 L110.0 178.0 L112.4 176.5 L113.7 175.0 L112.0 173.3 L112.8 168.9 L112.1 165.5 L106.3 167.7 L106.1 165.0 L103.2 164.3ZM112.5 194.0 L109.9 192.8 L106.6 187.7 L109.6 187.4 L112.9 191.2ZM105.8 179.7 L103.9 179.2 L102.6 184.2 L104.3 183.9ZM241.5 195.8 L251.5 185.7 L252.0 187.2 L254.9 191.0 L255.1 196.1 L248.9 197.6 L245.3 195.8ZM233.3 192.2 L238.0 191.5 L238.3 192.2 L235.4 192.0ZM159.4 138.1 L166.9 133.4 L178.2 133.8 L181.1 135.2 L187.6 136.6 L189.5 135.2 L196.1 134.8 L193.3 138.5 L194.2 142.3 L190.5 144.5 L182.9 144.8 L177.3 145.5 L169.8 145.2 L167.9 142.3 L161.3 140.4ZM198.9 136.6 L206.5 134.3 L208.4 136.6 L202.7 139.9 L199.9 139.0ZM196.6 143.2 L200.8 142.3 L202.7 145.1 L198.0 146.1ZM175.4 129.6 L189.5 126.3 L187.6 128.2 L181.1 130.5 L176.4 130.5ZM181.1 131.0 L191.4 129.6 L198.9 128.2 L200.8 130.1 L197.1 131.9 L185.8 132.9ZM194.2 126.3 L201.8 124.4 L200.8 125.8 L195.2 127.2ZM205.5 130.1 L213.1 128.2 L214.0 130.5 L206.5 131.9ZM208.4 124.4 L214.9 123.9 L214.9 125.8 L209.3 125.8ZM216.8 124.9 L221.5 124.4 L222.5 126.8 L217.8 126.8ZM212.6 131.5 L217.8 131.0 L215.9 132.9 L213.1 132.4ZM219.1 130.4 L228.5 129.9 L237.9 130.4 L238.9 132.2 L228.5 132.7 L219.1 132.2ZM236.1 119.1 L250.2 117.2 L261.5 117.2 L277.5 118.1 L269.9 119.5 L261.5 122.4 L252.1 124.2 L244.5 128.0 L233.2 129.4 L227.6 128.9 L230.4 126.1 L237.0 123.8 L224.8 123.3 L225.7 120.9 L233.2 120.0ZM216.3 139.3 L219.1 135.5 L233.2 135.1 L239.8 136.0 L241.7 138.8 L249.2 141.2 L251.1 144.0 L248.3 145.9 L256.8 149.6 L251.1 153.4 L246.4 151.5 L245.5 154.4 L247.4 158.1 L240.8 160.0 L234.2 159.1 L231.4 154.4 L226.6 153.9 L225.7 152.5 L232.3 151.5 L237.0 148.7 L234.2 147.8 L231.4 148.7 L233.2 145.9 L237.0 145.9 L236.1 143.1 L229.5 142.6 L226.6 143.1 L221.9 142.1 L217.2 141.2ZM209.2 156.6 L213.9 152.4 L219.5 155.2 L216.7 157.1ZM478.3 202.5 L483.3 200.9 L489.1 204.0 L491.9 206.3 L497.8 205.8 L500.8 207.6 L501.4 210.2 L503.3 212.3 L506.4 212.8 L508.4 211.8 L511.5 209.4 L512.3 211.5 L517.3 213.0 L514.9 214.3 L512.5 214.9 L509.4 213.6 L508.6 216.7 L506.2 216.7 L508.4 222.7 L505.7 222.1 L503.8 222.4 L500.5 219.3 L495.3 215.6 L491.4 212.3 L488.8 210.2 L485.3 208.4 L482.9 212.0 L480.8 212.0ZM511.5 209.4 L512.9 208.1 L516.7 208.9 L517.6 207.1 L521.5 207.6 L528.2 208.1 L530.7 208.1 L531.2 209.9 L524.9 214.3 L521.2 214.1 L519.5 216.9 L510.6 216.4 L512.5 214.9 L514.9 214.3 L517.3 213.0 L512.3 211.5ZM540.6 244.6 L542.1 241.0 L545.3 241.5 L549.6 245.1 L554.2 247.0 L558.9 247.0 L559.5 250.9 L552.7 250.4 L550.0 248.3 L545.3 247.0ZM627.1 215.6 L627.7 214.1 L629.9 210.7 L631.9 210.2 L634.9 209.2 L636.8 209.2 L636.5 212.3 L637.1 213.0 L634.0 215.9 L634.5 217.2 L637.5 219.0 L633.7 221.4 L631.6 220.8 L630.4 219.3 L628.3 216.4ZM571.5 265.8 L571.5 264.0 L571.7 262.7 L572.6 260.8 L572.7 257.2 L574.9 254.0 L575.5 250.4 L578.0 248.5 L579.2 245.9 L581.6 247.5 L582.8 248.0 L581.9 254.3 L582.2 257.4 L584.6 256.9 L586.9 259.8 L586.8 262.1 L590.5 261.1 L591.2 263.6 L590.4 268.5 L585.2 269.7 L584.6 273.2 L586.3 279.0 L588.1 284.8 L587.5 293.0 L588.2 291.9 L586.0 280.9 L585.0 276.8 L582.5 276.2 L580.3 278.9 L577.4 278.1 L577.8 273.9 L576.8 269.7 L574.8 268.4 L573.1 266.0ZM597.4 284.2 L603.8 282.5 L607.3 283.6 L608.5 288.3 L605.0 291.8 L599.7 290.6 L597.4 287.1ZM615.4 314.9 L619.8 317.3 L623.3 316.2 L627.5 317.3 L630.0 309.4 L634.4 309.2 L633.8 312.1 L636.9 317.3 L634.6 319.1 L633.7 322.0 L631.5 325.9 L630.2 330.3 L626.8 330.6 L623.2 328.3 L620.2 327.7 L616.7 327.5 L616.4 323.6 L614.1 319.9ZM582.6 306.0 L590.1 307.9 L597.6 316.4 L604.2 322.9 L607.1 329.5 L606.1 335.2 L601.4 333.3 L593.9 325.8 L588.2 316.4ZM605.2 336.1 L616.5 338.0 L627.8 340.8 L625.9 342.7 L614.6 340.8 L607.1 338.9ZM637.7 334.3 L638.1 329.0 L636.6 327.2 L637.2 321.2 L639.5 318.6 L641.5 316.5 L648.9 317.5 L651.4 316.2 L646.4 318.8 L641.6 319.1 L639.7 320.4 L641.8 322.2 L647.1 322.2 L642.9 324.9 L645.6 331.7 L642.4 330.9 L641.4 326.7 L640.0 334.3ZM665.5 323.8 L668.1 320.9 L672.0 322.2 L675.0 328.8 L679.6 323.8 L687.8 326.7 L686.7 343.7 L682.6 341.1 L679.3 341.8 L680.3 338.2 L673.8 331.4 L669.2 330.6 L667.0 327.2 L671.0 325.6ZM630.8 341.7 L636.7 341.3 L635.8 343.3 L631.7 343.7ZM637.5 342.5 L645.8 341.3 L645.0 343.0 L638.3 344.2ZM636.7 345.0 L640.0 345.8 L639.2 347.0 L636.7 346.3ZM645.8 345.8 L655.0 341.7 L655.8 343.0 L647.5 347.0ZM656.7 316.0 L659.0 314.7 L658.0 318.6 L659.3 322.0 L656.8 320.7ZM653.1 328.3 L655.9 328.5 L654.9 330.1 L653.1 329.6ZM657.8 328.3 L664.2 329.8 L661.2 328.8ZM454.6 222.1 L458.0 222.7 L460.0 225.8 L462.5 228.2 L461.6 231.0 L463.6 233.6 L467.3 235.2 L467.8 238.9 L468.8 241.5 L468.1 241.2 L466.6 241.7 L466.0 243.8 L461.8 243.6 L455.4 238.6 L448.3 236.3 L447.4 232.6 L451.9 230.0 L451.8 224.8 L451.5 222.9ZM440.2 225.0 L441.7 223.7 L444.5 223.7 L448.8 223.5 L451.5 222.9 L451.8 224.8 L451.9 230.0 L447.4 232.6 L441.6 235.5 L440.8 234.4 L440.9 232.9 L442.4 230.5 L440.9 229.5 L440.4 227.4ZM443.5 242.8 L446.5 240.2 L444.0 237.6 L448.3 236.3 L455.4 238.6 L461.8 243.6 L466.0 243.8 L470.2 245.4 L473.3 249.3 L475.0 251.9 L476.6 255.1 L478.6 256.6 L479.7 259.8 L487.0 260.6 L488.3 262.4 L487.2 267.6 L480.6 270.2 L474.0 271.3 L468.4 274.9 L461.0 274.2 L460.1 277.0 L456.1 271.3 L450.9 264.2 L449.2 258.2 L446.8 256.4 L444.5 252.5 L440.7 246.4 L439.6 244.1ZM466.0 243.8 L470.2 245.4 L468.9 241.7 L468.1 241.2 L466.6 241.7ZM634.7 254.0 L636.7 256.0 L636.0 262.0 L633.3 258.7ZM637.3 272.0 L640.7 272.7 L641.3 278.7 L640.7 282.7 L646.0 284.0 L650.7 290.0 L648.7 291.3 L644.7 286.7 L640.0 287.3 L638.7 284.0 L636.7 278.7ZM642.7 290.0 L647.3 291.3 L646.7 296.0 L643.3 292.7ZM648.7 292.0 L651.3 290.7 L650.7 294.7 L648.7 294.0ZM644.7 298.7 L649.3 296.7 L652.0 295.3 L654.0 298.7 L653.3 304.0 L650.7 305.3 L648.0 301.3 L644.0 301.3ZM632.0 298.0 L637.3 290.7 L636.7 292.7 L632.7 298.7ZM404.2 151.5 L407.0 153.3 L407.3 154.2 L403.4 156.8 L400.8 159.1 L401.7 162.7 L401.5 163.9 L404.7 165.3 L408.4 164.3 L413.5 163.9 L416.0 161.5 L418.9 158.2 L415.0 154.5 L414.7 151.7 L413.0 149.0 L413.5 147.2 L410.8 145.8 L410.9 144.3 L406.5 142.3 L404.6 145.2 L397.7 144.3 L397.0 144.1 L402.5 146.7ZM351.0 189.5 L354.4 188.7 L359.4 188.2 L365.2 186.4 L365.8 183.2 L363.0 181.2 L361.5 178.7 L359.4 176.0 L357.7 174.7 L358.8 171.1 L355.9 168.4 L353.1 168.4 L350.7 171.1 L351.8 174.0 L352.4 177.2 L356.1 177.5 L355.5 178.4 L356.6 181.4 L353.4 181.4 L354.4 183.7 L352.1 185.2 L355.7 186.2 L353.5 186.9ZM350.6 184.2 L350.4 179.9 L351.8 178.4 L350.9 176.7 L348.4 176.5 L346.0 178.4 L343.0 179.2 L343.1 181.2 L344.0 183.2 L341.9 184.9 L343.6 185.9 L346.6 185.2ZM367.5 186.9 L370.9 189.8 L372.2 189.5 L374.1 191.0 L375.3 191.1 L379.0 192.3 L377.9 195.8 L376.5 196.1 L374.7 198.9 L376.8 200.2 L376.1 202.2 L377.0 204.5 L378.1 205.6 L376.2 207.1 L372.9 206.6 L370.8 206.3 L368.9 208.9 L369.2 209.2 L366.0 208.9 L361.6 208.1 L358.7 206.6 L359.5 203.7 L360.0 199.4 L357.7 197.1 L353.3 195.0 L353.1 193.3 L356.4 192.8 L359.2 193.1 L358.6 190.5 L360.2 191.4 L362.8 191.2 L365.2 189.5 L365.6 187.4ZM380.4 207.6 L382.3 208.1 L381.9 211.8 L380.6 210.7ZM343.7 210.5 L345.2 209.9 L349.4 211.2 L347.8 212.8 L347.8 214.6 L346.9 216.9 L347.2 220.6 L346.5 222.7 L343.2 223.2 L343.6 219.8 L342.1 218.8 L343.5 214.9ZM367.5 186.9 L369.2 186.3 L371.0 186.2 L372.3 185.9 L374.0 187.2 L374.6 187.9 L374.6 189.5 L374.1 191.0 L372.2 189.5 L370.9 189.8ZM369.2 186.3 L370.3 184.9 L371.7 182.4 L373.0 181.4 L375.9 181.2 L376.5 181.7 L376.2 184.2 L374.3 185.2 L374.0 187.2 L372.3 185.9 L371.0 186.2ZM376.5 181.7 L379.0 180.7 L379.0 177.5 L381.0 177.6 L383.8 179.7 L386.7 178.7 L390.1 179.9 L390.6 181.4 L391.1 183.2 L391.6 185.9 L392.3 186.9 L390.9 187.2 L386.6 189.0 L387.6 191.0 L390.3 192.8 L388.8 194.8 L388.5 195.8 L383.8 196.1 L382.0 196.1 L377.9 195.8 L379.0 192.3 L375.3 191.1 L374.6 189.5 L374.6 187.9 L374.0 187.2 L374.3 185.2 L376.2 184.2ZM405.1 216.2 L407.1 215.4 L406.9 213.0 L411.0 212.0 L414.1 211.2 L417.7 211.0 L417.7 213.0 L413.3 213.6 L410.6 214.3 L412.2 217.5 L410.8 218.2 L414.0 220.3 L411.8 222.1 L412.4 224.5 L410.9 224.8 L409.3 223.7 L407.8 220.8 L408.0 218.5 L405.6 217.2ZM413.5 227.6 L419.6 227.6 L419.2 228.4 L414.7 228.4ZM408.2 179.9 L409.4 182.9 L409.0 184.7 L409.2 185.9 L412.4 184.9 L416.9 185.7 L423.2 186.4 L425.2 184.4 L424.1 181.7 L426.3 181.2 L422.5 179.4 L421.8 175.5 L416.2 174.3 L413.2 175.5 L411.9 178.9ZM705.0 440.4 L711.7 435.8 L720.0 432.1 L728.3 426.3 L730.8 427.5 L728.3 430.0 L721.7 434.2 L715.8 438.3 L708.3 441.7ZM732.5 428.3 L734.2 423.3 L738.3 419.6 L738.8 414.6 L739.2 410.0 L741.7 413.3 L742.1 416.7 L746.3 418.3 L743.3 422.1 L737.5 425.8Z"/>
<path fill="#9ebcda" d="M349.6 226.3 L357.6 228.2 L358.5 229.7 L358.7 233.1 L354.5 237.3 L350.9 241.5 L346.9 242.5 L343.1 244.9 L343.0 247.5 L333.0 247.5 L336.8 245.9 L340.7 241.7 L341.2 240.4 L340.8 237.3 L343.8 232.9 L347.6 231.0ZM368.7 303.4 L368.6 296.4 L370.7 293.0 L370.7 289.3 L371.8 284.6 L378.7 285.9 L383.1 286.4 L390.6 285.7 L394.7 285.7 L395.7 288.0 L393.7 291.7 L390.1 301.6 L388.0 302.9 L385.0 302.1 L382.0 307.3 L378.8 308.1 L376.0 308.7 L372.8 303.4ZM399.1 394.6 L402.5 395.4 L407.0 394.1 L407.4 384.7 L409.3 387.6 L413.6 385.8 L419.6 386.8 L423.3 381.6 L428.9 377.7 L433.6 377.9 L434.4 383.7 L434.0 386.8 L436.0 390.2 L434.6 394.4 L430.9 398.0 L424.0 404.8 L418.4 408.8 L411.6 408.8 L406.0 410.9 L402.7 408.5 L402.5 403.5ZM633.7 221.4 L637.5 219.0 L641.6 222.9 L644.0 227.6 L641.1 228.7 L638.2 230.0 L636.6 225.8 L636.2 223.5ZM457.9 216.2 L461.9 218.2 L465.3 219.0 L467.1 219.5 L468.0 221.9 L472.4 223.7 L478.8 223.5 L478.6 222.4 L481.7 220.6 L485.5 220.6 L490.0 222.1 L493.0 223.2 L495.3 226.8 L494.8 231.8 L496.7 237.6 L498.6 237.8 L497.5 241.7 L499.7 244.9 L502.4 246.2 L502.7 248.5 L504.0 249.8 L500.8 254.0 L496.0 253.5 L490.9 252.5 L488.5 249.1 L484.9 250.6 L479.6 247.8 L477.3 247.0 L473.4 241.2 L470.7 240.7 L468.8 241.5 L467.8 238.9 L467.3 235.2 L463.6 233.6 L461.6 231.0 L462.5 228.2 L460.0 225.8 L458.0 222.7 L457.7 219.8ZM390.1 179.9 L394.4 178.4 L398.4 178.0 L400.4 178.7 L406.6 178.8 L408.2 179.9 L409.4 182.9 L409.0 184.7 L409.2 185.9 L410.5 187.7 L408.0 192.0 L402.7 191.7 L400.2 191.0 L396.4 188.7 L392.3 186.9 L391.6 185.9 L391.1 183.2 L390.6 181.4Z"/>
<path fill="#8c96c6" d="M438.4 299.2 L440.9 297.4 L441.2 292.2 L440.5 290.6 L443.4 288.3 L445.6 284.3 L445.9 282.5 L449.1 280.9 L453.9 282.0 L456.8 284.6 L459.6 287.2 L461.3 289.1 L460.7 291.1 L460.3 292.2 L465.0 296.4 L472.9 299.0 L470.5 304.2 L466.2 306.8 L462.7 307.1 L459.3 308.9 L457.0 309.7 L456.5 308.9 L454.3 311.0 L450.3 310.5 L445.5 308.4 L443.8 305.5 L442.8 302.6ZM105.1 234.9 L110.1 234.9 L117.2 238.1 L123.6 238.1 L124.0 236.8 L127.8 236.8 L130.5 242.5 L133.2 244.1 L135.3 242.0 L137.5 242.0 L138.5 245.9 L140.3 248.0 L140.5 250.9 L144.5 252.2 L142.6 256.6 L141.9 262.4 L142.2 266.0 L144.4 270.2 L147.5 272.3 L152.8 271.3 L156.0 269.4 L157.8 265.0 L163.4 263.7 L166.0 264.2 L163.9 270.2 L161.7 271.5 L159.5 273.3 L155.4 273.3 L155.2 274.8 L154.2 274.8 L156.1 277.0 L156.0 277.9 L153.1 277.9 L152.2 280.4 L151.5 282.0 L148.1 278.3 L145.7 277.6 L142.1 279.0 L138.3 277.8 L135.1 276.2 L131.1 273.9 L127.0 272.1 L124.3 269.4 L123.1 266.6 L124.3 263.4 L123.2 260.3 L120.6 256.4 L118.7 253.2 L117.4 251.2 L115.7 247.2 L113.7 245.4 L112.9 242.0 L112.3 238.9 L109.4 237.0 L108.4 241.5 L109.9 245.4 L111.4 249.3 L112.2 253.2 L113.5 255.6 L115.5 259.3 L114.0 259.0 L112.2 256.4 L110.5 255.1 L111.0 251.9 L108.5 249.8 L107.0 247.2 L108.2 245.1 L106.0 241.5 L105.2 238.3ZM497.5 241.7 L501.2 243.0 L509.4 241.7 L510.1 238.1 L515.1 236.5 L516.9 231.8 L517.4 229.2 L517.6 225.8 L523.8 222.1 L524.3 223.2 L527.7 226.3 L531.4 227.1 L529.4 228.4 L524.1 231.0 L525.8 234.2 L528.0 235.5 L527.0 238.9 L525.2 241.7 L522.6 247.0 L518.9 248.8 L520.1 252.7 L522.1 256.1 L520.0 256.6 L517.2 256.4 L516.1 257.9 L514.2 257.2 L511.9 253.5 L507.3 254.0 L500.8 254.0 L504.0 249.8 L502.7 248.5 L502.4 246.2 L499.7 244.9ZM563.5 262.1 L562.3 258.2 L560.3 255.9 L560.9 254.0 L560.0 252.5 L561.9 251.9 L563.7 252.0 L569.2 254.0 L570.1 256.6 L569.4 259.3 L571.2 263.7 L571.5 265.8 L570.3 263.7 L568.3 260.8 L567.0 262.4 L565.4 262.7ZM585.2 269.7 L590.4 268.5 L592.2 273.7 L595.1 272.6 L599.7 273.7 L603.8 280.1 L603.8 282.5 L597.4 284.2 L595.7 287.1 L591.0 284.8 L589.8 288.3 L590.4 293.0 L593.3 298.2 L593.6 300.8 L595.3 301.9 L597.7 303.7 L595.2 305.3 L593.1 302.9 L589.2 299.0 L588.5 295.6 L587.5 293.0 L588.1 284.8 L586.3 279.0 L584.6 273.2ZM593.2 261.3 L596.0 260.6 L599.8 259.0 L603.2 260.3 L607.8 263.2 L603.8 267.3 L601.5 270.2 L608.5 276.6 L613.1 282.5 L613.7 289.5 L609.7 293.0 L605.0 296.5 L603.8 293.0 L605.0 291.8 L608.5 288.3 L607.3 283.6 L608.5 281.3 L605.0 274.3 L598.6 270.2 L600.3 267.3 L596.8 262.7ZM655.8 202.1 L663.3 204.2 L666.7 207.1 L663.3 210.4 L660.0 209.6 L658.3 211.7 L656.3 209.2 L656.7 205.0ZM659.6 212.1 L665.0 216.7 L666.3 220.8 L667.9 226.7 L666.7 229.2 L660.8 230.0 L659.2 232.5 L655.0 231.3 L650.8 230.0 L648.8 232.1 L649.2 229.2 L651.7 227.1 L657.5 225.8 L657.5 223.8 L661.7 220.8 L660.8 215.8ZM652.5 231.7 L657.5 231.7 L655.0 234.2 L652.5 234.2ZM646.3 233.3 L650.0 232.1 L652.5 235.0 L651.7 238.8 L650.0 238.3 L647.9 235.0ZM358.7 206.6 L361.6 208.1 L366.0 208.9 L369.2 209.2 L369.2 210.5 L364.3 212.8 L361.8 216.7 L362.9 218.5 L360.9 221.6 L357.9 224.0 L352.9 224.0 L350.3 225.8 L348.6 223.7 L346.5 222.7 L347.2 220.6 L346.9 216.9 L347.8 214.6 L347.8 212.8 L349.4 211.2 L345.2 209.9 L343.7 210.5 L343.0 207.6 L345.8 205.8 L353.0 206.6ZM378.1 205.6 L380.7 204.0 L383.7 205.3 L384.4 207.9 L387.7 210.5 L389.0 211.8 L391.8 212.3 L395.6 215.1 L396.0 220.6 L397.0 220.6 L399.0 218.2 L397.8 215.4 L398.1 214.3 L399.6 214.6 L401.8 215.1 L400.6 213.7 L396.2 211.5 L391.8 208.6 L390.8 206.1 L387.9 203.5 L388.0 201.4 L390.7 200.9 L390.5 198.6 L387.8 198.1 L383.9 197.6 L383.2 199.4 L381.0 200.3 L378.5 200.2 L376.8 200.2 L376.1 202.2 L377.0 204.5ZM389.1 220.6 L395.9 219.8 L395.1 224.1 L389.1 221.6ZM380.2 212.8 L383.2 213.0 L382.9 217.5 L380.6 218.2 L380.3 214.1ZM417.6 213.8 L417.7 211.0 L419.7 209.9 L421.4 210.2 L424.0 212.3 L428.2 212.5 L433.0 210.2 L436.5 210.2 L443.6 213.0 L448.0 212.8 L450.0 211.5 L452.7 211.2 L454.7 212.5 L455.3 214.9 L457.9 216.2 L457.7 219.8 L458.0 222.7 L454.6 222.1 L451.5 222.9 L448.8 223.5 L444.5 223.7 L441.7 223.7 L441.0 226.3 L439.9 223.5 L437.4 223.7 L432.9 225.5 L428.6 224.0 L425.6 224.2 L422.1 224.0 L421.1 220.8 L418.9 219.8 L419.6 216.7 L418.3 216.7 L420.4 214.3 L424.0 213.8 L420.7 213.0ZM614.2 408.3 L616.7 403.3 L617.5 390.0 L619.2 378.3 L623.3 375.0 L636.7 370.8 L641.7 365.0 L650.0 357.5 L655.0 356.7 L663.3 351.7 L666.7 349.2 L676.7 351.7 L673.3 359.2 L681.7 365.8 L686.7 356.7 L689.2 348.3 L691.5 354.0 L695.0 360.0 L695.8 370.0 L701.7 378.3 L705.8 386.7 L705.0 395.0 L698.3 406.7 L691.7 413.3 L685.0 418.3 L675.0 421.7 L670.0 420.0 L665.0 413.3 L663.3 410.0 L662.5 404.5 L660.5 408.0 L658.3 403.3 L650.0 403.3 L638.3 405.0 L626.7 409.2 L618.3 410.8ZM669.2 426.2 L676.5 426.7 L671.9 432.7 L668.7 433.7 L667.6 430.4Z"/>
<path fill="#8c6bb1" d="M109.8 193.8 L114.3 192.2 L170.4 192.2 L171.0 191.2 L171.2 193.0 L180.4 194.8 L183.2 194.0 L189.2 198.6 L192.0 201.7 L190.5 207.6 L187.5 210.2 L197.3 206.8 L203.5 204.8 L207.9 202.5 L214.5 202.5 L216.5 201.4 L221.4 196.2 L223.3 196.4 L223.9 197.2 L222.7 200.7 L223.6 203.0 L220.1 204.3 L216.5 205.8 L214.7 207.4 L213.6 209.4 L214.9 211.0 L211.4 211.8 L205.7 213.8 L204.7 216.4 L202.2 218.2 L200.7 218.8 L200.9 220.6 L198.3 223.5 L198.2 227.9 L195.5 229.2 L191.9 231.3 L188.8 233.1 L184.3 236.3 L182.4 239.7 L183.0 245.4 L183.5 249.8 L181.9 254.0 L180.1 254.0 L179.3 250.6 L178.0 246.7 L178.4 243.6 L176.9 241.7 L175.3 241.7 L173.2 242.3 L171.0 240.4 L167.6 240.4 L164.0 241.0 L163.7 244.1 L161.3 243.8 L157.5 242.8 L154.1 242.3 L151.3 243.6 L147.7 245.9 L144.8 248.5 L144.5 252.2 L140.5 250.9 L140.3 248.0 L138.5 245.9 L137.5 242.0 L135.3 242.0 L133.2 244.1 L130.5 242.5 L127.8 236.8 L124.0 236.8 L123.6 238.1 L117.2 238.1 L110.1 234.9 L105.1 234.9 L103.5 231.5 L99.5 229.5 L98.5 225.0 L98.8 221.6 L97.8 218.2 L98.7 214.3 L100.9 210.2 L101.5 208.1 L107.9 199.4 L109.2 196.6ZM127.4 143.0 L103.2 164.3 L106.1 165.0 L106.3 167.7 L112.1 165.5 L112.8 168.9 L112.0 173.3 L113.7 175.0 L112.4 176.5 L110.0 178.0 L108.9 171.6 L104.4 166.4 L97.3 163.8 L93.4 163.8 L86.9 163.2 L81.8 166.4 L75.3 169.6 L68.8 171.6 L55.9 176.1 L44.2 178.7 L55.9 174.2 L67.5 169.6 L61.1 167.1 L60.4 163.2 L64.9 159.9 L71.4 157.4 L77.9 154.8 L71.4 153.5 L70.1 151.5 L80.5 150.2 L82.4 148.3 L81.8 145.7 L90.8 143.1 L107.6 139.9 L118.0 141.2ZM243.4 308.9 L244.8 309.7 L247.0 314.9 L247.2 317.3 L250.5 320.4 L252.1 321.5 L258.8 323.8 L260.9 326.7 L266.7 327.5 L273.6 329.6 L276.7 332.4 L281.3 334.3 L282.3 339.5 L281.7 343.4 L277.5 348.6 L274.2 353.9 L273.3 359.1 L273.0 366.7 L271.7 371.4 L269.8 377.1 L267.7 379.7 L261.9 381.1 L257.7 382.6 L254.7 386.5 L253.6 389.2 L253.6 394.6 L250.4 400.7 L247.4 404.1 L245.6 408.0 L244.9 406.7 L244.0 403.5 L239.5 400.5 L236.2 398.6 L238.7 393.6 L242.3 388.5 L239.9 386.8 L240.2 382.6 L236.9 379.0 L231.6 377.7 L230.4 371.6 L230.4 365.6 L225.1 362.5 L223.9 356.0 L220.7 354.9 L214.8 352.6 L212.4 350.5 L212.3 345.5 L209.4 345.8 L206.2 347.9 L202.6 348.5 L200.5 348.6 L200.1 344.7 L195.0 343.4 L192.0 339.5 L193.8 337.1 L194.4 333.7 L201.0 330.9 L202.0 322.2 L201.3 317.0 L208.0 316.8 L211.4 318.1 L214.7 313.4 L213.4 309.2 L217.6 309.4 L221.8 308.1 L223.4 306.3 L224.3 309.2 L224.9 313.4 L226.7 316.8 L232.0 314.9 L235.7 313.4 L237.6 314.4 L241.0 313.4ZM9.0 267.1 L10.7 268.4 L8.9 270.5 L8.4 268.9ZM7.7 265.0 L9.1 265.5 L7.9 266.0ZM4.4 263.4 L5.6 264.2 L4.7 264.2ZM1.4 261.9 L2.5 262.1 L1.7 262.7Z"/>
<path fill="#88419d" d="M516.1 257.9 L518.3 261.3 L522.1 265.5 L526.7 264.2 L527.8 270.2 L530.0 278.1 L533.0 284.3 L536.5 291.1 L538.6 296.6 L540.8 298.7 L542.3 296.6 L544.6 293.0 L546.0 293.0 L545.7 288.5 L546.3 284.6 L545.5 280.2 L548.8 277.3 L550.1 276.5 L553.5 272.1 L558.6 267.9 L559.2 263.7 L563.3 263.4 L563.5 262.1 L562.3 258.2 L560.3 255.9 L560.9 254.0 L560.0 252.5 L561.9 251.9 L563.7 252.0 L569.2 254.0 L570.1 256.6 L569.4 259.3 L571.2 263.7 L571.7 262.7 L572.6 260.8 L572.7 257.2 L574.9 254.0 L575.5 250.4 L578.0 248.5 L579.2 245.9 L576.1 243.3 L574.5 244.1 L572.6 243.3 L568.1 248.3 L568.2 249.8 L563.4 250.1 L560.8 248.5 L558.9 247.0 L559.5 250.9 L552.7 250.4 L550.0 248.3 L545.3 247.0 L540.6 244.6 L542.1 241.0 L538.6 239.1 L535.9 237.3 L535.9 235.2 L537.0 234.4 L533.0 229.7 L531.4 227.1 L529.4 228.4 L524.1 231.0 L525.8 234.2 L528.0 235.5 L527.0 238.9 L525.2 241.7 L522.6 247.0 L518.9 248.8 L520.1 252.7 L522.1 256.1 L520.0 256.6 L517.2 256.4Z"/>
<path fill="#6e016b" d="M519.3 216.9 L521.2 214.1 L524.9 214.3 L528.2 211.5 L531.2 209.9 L530.7 208.1 L529.2 204.5 L528.5 202.7 L532.6 201.2 L530.9 197.8 L531.9 196.8 L537.1 197.1 L536.0 193.8 L538.5 192.0 L542.7 194.5 L546.2 195.6 L549.0 198.6 L550.2 201.7 L556.0 202.7 L560.5 204.3 L564.6 208.4 L571.3 208.9 L576.2 208.9 L581.4 210.7 L584.0 211.2 L588.3 209.2 L593.8 208.1 L595.6 205.8 L593.6 202.2 L597.6 203.0 L601.9 198.9 L607.6 198.1 L602.1 194.8 L596.6 190.2 L601.1 189.7 L600.2 185.2 L599.2 181.7 L603.5 180.9 L609.7 182.7 L616.2 188.7 L622.0 191.2 L626.3 192.5 L629.0 195.6 L632.8 194.5 L636.3 195.8 L638.9 201.2 L637.8 202.5 L635.0 201.9 L635.3 205.0 L637.5 207.9 L636.8 209.2 L634.9 209.2 L631.9 210.2 L629.9 210.7 L627.7 214.1 L627.1 215.6 L624.3 216.2 L622.4 218.2 L620.6 216.7 L622.0 214.1 L620.0 213.0 L616.8 215.6 L614.5 217.5 L614.4 219.0 L618.3 221.9 L619.0 222.7 L622.2 221.1 L626.4 222.1 L623.2 225.8 L621.9 228.4 L626.8 233.6 L631.1 237.0 L631.8 239.1 L633.0 242.0 L633.6 245.9 L632.0 250.6 L630.9 253.8 L627.9 256.1 L625.3 260.0 L620.4 261.6 L617.8 262.4 L613.1 264.0 L612.2 266.8 L610.3 263.7 L607.8 263.2 L603.2 260.3 L599.8 259.0 L596.0 260.6 L593.2 261.3 L592.6 264.5 L591.2 263.6 L590.5 261.1 L586.8 262.1 L586.9 259.8 L584.6 256.9 L582.2 257.4 L581.9 254.3 L582.8 248.0 L581.6 247.5 L579.2 245.9 L576.1 243.3 L574.5 244.1 L572.6 243.3 L568.1 248.3 L567.0 247.2 L562.1 246.2 L560.8 248.5 L558.9 247.0 L554.2 247.0 L549.6 245.1 L545.3 241.5 L542.1 241.0 L538.6 239.1 L535.9 237.3 L535.9 235.2 L537.0 234.4 L533.0 229.7 L531.4 227.1 L527.7 226.3 L524.3 223.2 L523.8 222.1 L522.8 219.3ZM609.1 269.7 L612.1 267.6 L614.3 268.7 L613.7 271.5 L611.1 272.3Z"/>
<path fill="#fdfefe" d="M422.5 395.7 L425.9 394.6 L427.7 396.7 L424.8 399.9 L422.3 398.3ZM431.5 387.9 L434.1 388.6 L433.7 391.2 L431.7 390.7Z"/>
</g>
<!-- legend -->
<g id="legend">
<rect x="186.8" y="501.5" width="46.8" height="11" fill="url(#nd)" stroke="#ccc" stroke-width="0.8"/>
<line x1="210.2" y1="498.5" x2="210.2" y2="501.5" stroke="#bbb" stroke-width="0.8"/>
<path d="M258.9 501.3 L312.3 501.3 L312.3 512.5 L258.9 512.5 L253.2 506.9 Z" fill="#edf8fb" stroke="#bbb" stroke-width="0.8"/>
<rect x="312.3" y="501.3" width="58.6" height="11.2" fill="#bfd3e6" stroke="#bbb" stroke-width="0.8"/>
<rect x="370.9" y="501.3" width="58.6" height="11.2" fill="#9ebcda" stroke="#bbb" stroke-width="0.8"/>
<rect x="429.5" y="501.3" width="58.6" height="11.2" fill="#8c96c6" stroke="#bbb" stroke-width="0.8"/>
<rect x="488.1" y="501.3" width="58.6" height="11.2" fill="#8c6bb1" stroke="#bbb" stroke-width="0.8"/>
<rect x="546.7" y="501.3" width="58.6" height="11.2" fill="#88419d" stroke="#bbb" stroke-width="0.8"/>
<rect x="605.3" y="501.3" width="58.6" height="11.2" fill="#6e016b" stroke="#bbb" stroke-width="0.8"/>
<path d="M312.3 498.5V512.5M370.9 498.5V512.5M429.5 498.5V512.5M488.1 498.5V512.5M546.7 498.5V512.5M605.3 498.5V512.5M663.9 498.5V512.5" stroke="#999" stroke-width="0.8" fill="none"/>
</g>
</svg>
<div class="t leg" style="left:187px;top:483px;letter-spacing:0.3px">No data</div>
<div class="t leg" style="left:297px;top:483px">0.1%</div>
<div class="t leg" style="left:355px;top:483px">0.5%</div>
<div class="t leg" style="left:420px;top:483px">1%</div>
<div class="t leg" style="left:479px;top:483px">5%</div>
<div class="t leg" style="left:534px;top:483px">10%</div>
<div class="t leg" style="left:592px;top:483px">25%</div>
<div class="t leg" style="left:651px;top:483px">50%</div>

<div class="t foot" style="top:533.8px;letter-spacing:0.06px"><b>Data source:</b> West, Gerber, Engstrom, Mueller, Brauman, Carlson, Cassidy, Johnston, MacDonald, Ray &amp; Siebert (2014). Leverage points for</div>
<div class="t foot" style="top:550px">improving global food security and the environment. Science.</div>
<div class="t foot" style="top:570px;letter-spacing:0.27px">OurWorldinData.org/fertilizers | CC BY</div>
</body></html>
